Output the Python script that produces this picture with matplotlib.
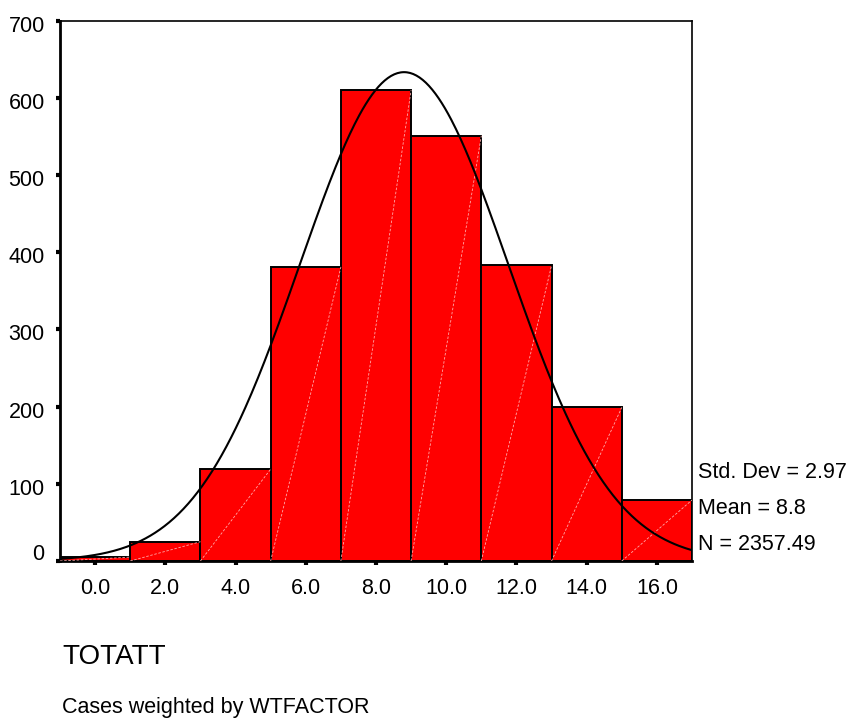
import numpy as np
import matplotlib
matplotlib.use("Agg")
import matplotlib.pyplot as plt
from matplotlib.transforms import ScaledTranslation

plt.rcParams['font.family'] = ['Liberation Sans', 'DejaVu Sans']

# Data
bin_centers = [0.0, 2.0, 4.0, 6.0, 8.0, 10.0, 12.0, 14.0, 16.0]
counts = [5, 25, 119, 381, 610, 551, 383, 199, 79]
bin_width = 2.0
std_dev = 2.97
mean = 8.8
n_total = 2357.49
x_ticks = [0.0, 2.0, 4.0, 6.0, 8.0, 10.0, 12.0, 14.0, 16.0]
x_tick_labels = ["0.0", "2.0", "4.0", "6.0", "8.0", "10.0", "12.0", "14.0", "16.0"]
y_ticks = [0, 100, 200, 300, 400, 500, 600, 700]
y_tick_labels = ["0", "100", "200", "300", "400", "500", "600", "700"]
var_name = "TOTATT"
footnote = "Cases weighted by WTFACTOR"

fig = plt.figure(figsize=(8.52, 7.2), dpi=100)
ax = fig.add_axes([60/852, 1 - 561/720, (692-60)/852, (561-20.7)/720])

ax.bar(bin_centers, counts, width=bin_width, color='#ff0000',
       edgecolor='black', linewidth=1.4, zorder=2)
# faint diagonal lines inside bars
for c, h in zip(bin_centers, counts):
    ax.plot([c - bin_width/2, c + bin_width/2], [0, h], color='#ffaaaa',
            lw=0.6, ls=(0, (3, 2)), zorder=3)

# fitted normal curve from displayed statistics
xs = np.linspace(-1, 17, 400)
ys = n_total * bin_width / (std_dev * np.sqrt(2*np.pi)) * np.exp(-0.5*((xs-mean)/std_dev)**2)
ax.plot(xs, ys, color='black', lw=1.5, zorder=4)

ax.set_xlim(-1, 17)
ax.set_ylim(0, 700)
ax.set_xticks(x_ticks)
ax.set_xticklabels(x_tick_labels, fontsize=15.5)
ax.set_yticks(y_ticks)
ax.set_yticklabels(y_tick_labels, fontsize=15.5)
ax.tick_params(axis='y', direction='out', length=3, width=3, pad=8)
ax.tick_params(axis='x', direction='out', length=3, width=3, pad=9)
for lab in ax.get_yticklabels():
    lab.set_transform(lab.get_transform() + ScaledTranslation(0, -3/100, fig.dpi_scale_trans))
ylabs = ax.get_yticklabels()
ylabs[0].set_transform(ylabs[0].get_transform() + ScaledTranslation(0, 12/100, fig.dpi_scale_trans))

for s in ['top', 'right']:
    ax.spines[s].set_linewidth(1.2)
for s in ['left', 'bottom']:
    ax.spines[s].set_linewidth(2.0)

# statistics box text
fig.text(698/852, 1 - 473/720, "Std. Dev = %.2f" % std_dev, fontsize=15.5, va='center', ha='left')
fig.text(698/852, 1 - 508/720, "Mean = %.1f" % mean, fontsize=15.5, va='center', ha='left')
fig.text(698/852, 1 - 545/720, "N = %.2f" % n_total, fontsize=15.5, va='center', ha='left')

fig.text(62/852, 1 - 657/720, var_name, fontsize=20, va='center', ha='left')
fig.text(62/852, 1 - 707/720, footnote, fontsize=15.5, va='center', ha='left')

fig.savefig("out.png", dpi=100)
